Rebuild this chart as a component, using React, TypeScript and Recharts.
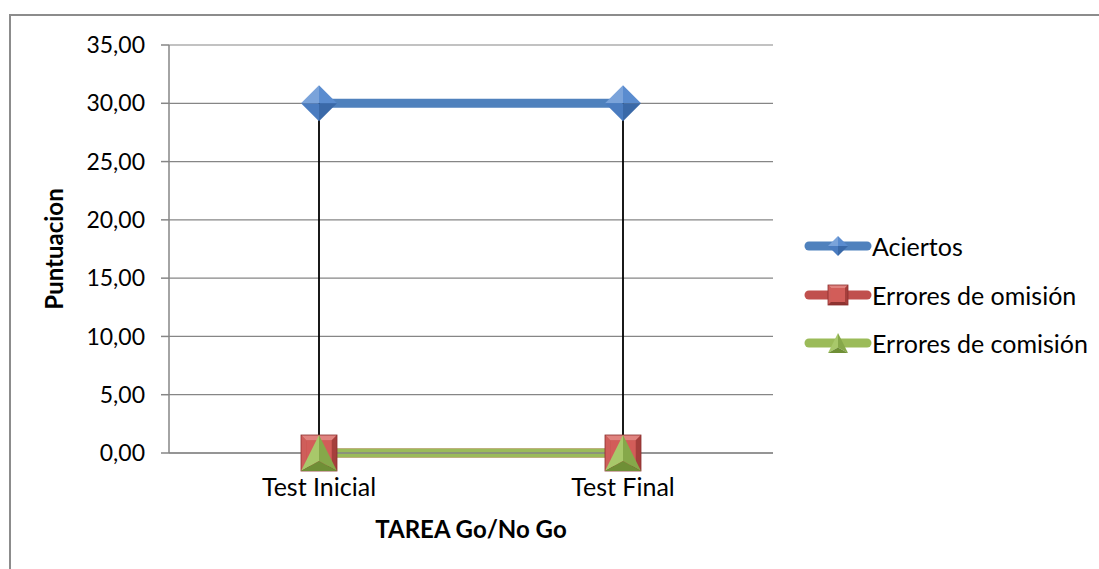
import React from "react";
import {
  LineChart,
  Line,
  XAxis,
  YAxis,
  CartesianGrid,
  ReferenceLine
} from "recharts";

const categories = ["Test Inicial", "Test Final"];
const aciertos = [30, 30];
const erroresOmision = [0, 0];
const erroresComision = [0, 0];
const yTicks = [0, 5, 10, 15, 20, 25, 30, 35];

const seriesNames = ["Aciertos", "Errores de omisión", "Errores de comisión"];
const seriesColors = ["#4f81bd", "#c0504d", "#9bbb59"];

const data = categories.map((cat, i) => ({
  name: cat,
  aciertos: aciertos[i],
  omision: erroresOmision[i],
  comision: erroresComision[i]
}));

const font = "Lato, 'Open Sans', sans-serif";

// marker shapes, with facets to look like the bevelled office markers
function diamond(cx: number, cy: number, r: number) {
  return (
    <g>
      <polygon points={`${cx},${cy - r} ${cx},${cy} ${cx - r},${cy}`} fill="#7aa3da" />
      <polygon points={`${cx},${cy - r} ${cx + r},${cy} ${cx},${cy}`} fill="#5a8ccf" />
      <polygon points={`${cx + r},${cy} ${cx},${cy + r} ${cx},${cy}`} fill="#3a69a8" />
      <polygon points={`${cx - r},${cy} ${cx},${cy} ${cx},${cy + r}`} fill="#4a7cc0" />
    </g>
  );
}

function square(cx: number, cy: number, r: number) {
  const b = r * 0.3;
  return (
    <g>
      <rect x={cx - r} y={cy - r} width={r * 2} height={r * 2} fill="#c0504d" />
      <polygon points={`${cx - r},${cy - r} ${cx + r},${cy - r} ${cx + r - b},${cy - r + b} ${cx - r + b},${cy - r + b}`} fill="#e0837f" />
      <polygon points={`${cx - r},${cy - r} ${cx - r + b},${cy - r + b} ${cx - r + b},${cy + r - b} ${cx - r},${cy + r}`} fill="#cf5e5a" />
      <polygon points={`${cx + r},${cy - r} ${cx + r},${cy + r} ${cx + r - b},${cy + r - b} ${cx + r - b},${cy - r + b}`} fill="#a53f3c" />
      <polygon points={`${cx - r},${cy + r} ${cx + r},${cy + r} ${cx + r - b},${cy + r - b} ${cx - r + b},${cy + r - b}`} fill="#8e3331" />
      <rect x={cx - r + b} y={cy - r + b} width={(r - b) * 2} height={(r - b) * 2} fill="#d25d59" />
      <rect x={cx - r} y={cy - r} width={r * 2} height={r * 2} fill="none" stroke="#8a2f2d" strokeWidth={0.8} />
    </g>
  );
}

function triangle(cx: number, cy: number, r: number) {
  const mid = cy + r * 0.45;
  return (
    <g>
      <polygon points={`${cx},${cy - r} ${cx - r},${cy + r} ${cx},${mid}`} fill="#a8c86a" />
      <polygon points={`${cx},${cy - r} ${cx},${mid} ${cx + r},${cy + r}`} fill="#86a84a" />
      <polygon points={`${cx - r},${cy + r} ${cx + r},${cy + r} ${cx},${mid}`} fill="#6f8f36" />
    </g>
  );
}

const shapes = [diamond, square, triangle];

function makeDot(idx: number, r: number) {
  return (props: any) => {
    const { cx, cy, index } = props;
    if (cx == null || cy == null) return <g key={`d${idx}-${index}`} />;
    return <g key={`d${idx}-${index}`}>{shapes[idx](cx, cy, r)}</g>;
  };
}

function ChartLegend() {
  return (
    <div
      style={{
        position: "absolute",
        left: 803,
        top: 222,
        fontFamily: font,
        fontSize: 25,
        color: "#000"
      }}
    >
      {seriesNames.map((name, i) => (
        <div
          key={name}
          style={{ display: "flex", alignItems: "center", height: 48.5 }}
        >
          <svg width={69} height={30}>
            <line
              x1={6}
              y1={15}
              x2={64}
              y2={15}
              stroke={seriesColors[i]}
              strokeWidth={9}
              strokeLinecap="round"
            />
            {shapes[i](35, 15, 10)}
          </svg>
          <span>{name}</span>
        </div>
      ))}
    </div>
  );
}

export default function App() {
  return (
    <div
      style={{
        position: "absolute",
        left: 0,
        top: 0,
        width: 1099,
        height: 569,
        overflow: "hidden",
        background: "#fff"
      }}
    >
      <div
        style={{
          position: "absolute",
          left: 9,
          top: 14,
          width: 1200,
          height: 700,
          border: "2px solid #8c8c8c"
        }}
      />
      <div style={{ position: "absolute", left: 0, top: 0 }}>
        <LineChart
          width={1099}
          height={569}
          data={data}
          margin={{ top: 45, right: 326, bottom: 76, left: 0 }}
        >
          <CartesianGrid vertical={false} stroke="#868686" strokeWidth={1.2} />
          <XAxis
            dataKey="name"
            padding={{ left: 150, right: 150 }}
            height={40}
            tickLine={false}
            tickSize={0}
            tickMargin={25}
            stroke="#868686"
            strokeWidth={1.5}
            tick={{ fill: "#000", fontSize: 25, fontFamily: font }}
            label={{
              value: "TAREA Go/No Go",
              position: "bottom",
              offset: 28,
              style: { fill: "#000", fontSize: 24, fontWeight: 700, fontFamily: font }
            }}
          />
          <YAxis
            width={169}
            domain={[0, 35]}
            ticks={yTicks}
            interval={0}
            tickSize={8}
            tickMargin={16}
            stroke="#868686"
            strokeWidth={1.5}
            tickFormatter={(v: number) => v.toFixed(2).replace(".", ",")}
            tick={{ fill: "#000", fontSize: 23, fontFamily: font }}
            label={{
              value: "Puntuacion",
              angle: -90,
              position: "insideLeft",
              offset: 54,
              style: { textAnchor: "middle", fill: "#000", fontSize: 24, fontWeight: 700, fontFamily: font }
            }}
          />
          <Line
            dataKey="aciertos"
            name={seriesNames[0]}
            stroke={seriesColors[0]}
            strokeWidth={9}
            dot={makeDot(0, 18)}
            isAnimationActive={false}
          />
          <Line
            dataKey="omision"
            name={seriesNames[1]}
            stroke={seriesColors[1]}
            strokeWidth={9}
            dot={makeDot(1, 18)}
            isAnimationActive={false}
          />
          <Line
            dataKey="comision"
            name={seriesNames[2]}
            stroke={seriesColors[2]}
            strokeWidth={9}
            dot={makeDot(2, 18)}
            isAnimationActive={false}
          />
          {categories.map((cat, i) => (
            <ReferenceLine
              key={cat}
              segment={[
                { x: cat, y: Math.min(aciertos[i], erroresOmision[i], erroresComision[i]) },
                { x: cat, y: Math.max(aciertos[i], erroresOmision[i], erroresComision[i]) }
              ]}
              stroke="#000"
              strokeWidth={1.8}
            />
          ))}
        </LineChart>
      </div>
      <ChartLegend />
    </div>
  );
}
